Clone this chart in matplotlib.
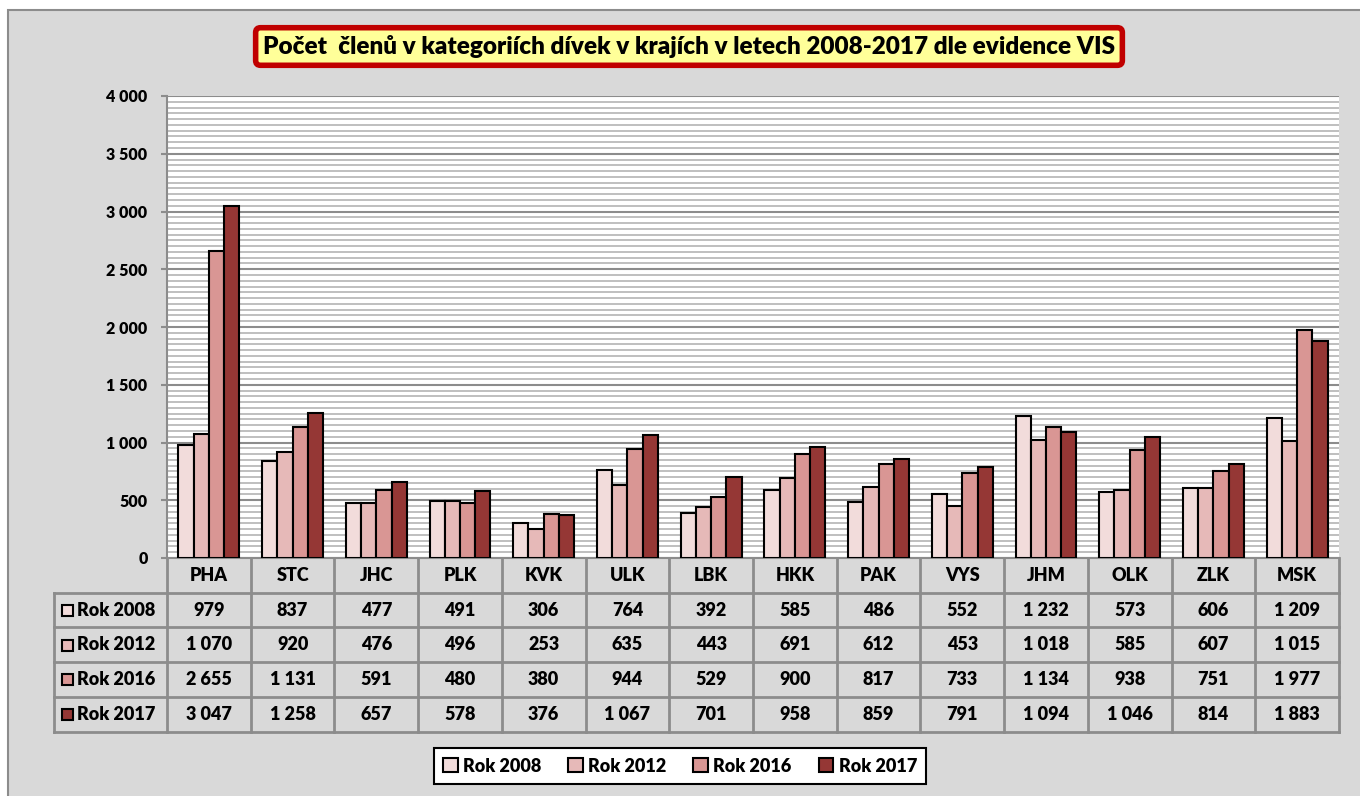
import numpy as np
import matplotlib
matplotlib.use("Agg")
import matplotlib.pyplot as plt
from matplotlib.patches import Rectangle, Patch
from matplotlib.transforms import blended_transform_factory
from matplotlib.ticker import MultipleLocator

# data
regions = ['PHA', 'STC', 'JHC', 'PLK', 'KVK', 'ULK', 'LBK', 'HKK', 'PAK', 'VYS', 'JHM', 'OLK', 'ZLK', 'MSK']
series_names = ['Rok 2008', 'Rok 2012', 'Rok 2016', 'Rok 2017']
rok_2008 = [979, 837, 477, 491, 306, 764, 392, 585, 486, 552, 1232, 573, 606, 1209]
rok_2012 = [1070, 920, 476, 496, 253, 635, 443, 691, 612, 453, 1018, 585, 607, 1015]
rok_2016 = [2655, 1131, 591, 480, 380, 944, 529, 900, 817, 733, 1134, 938, 751, 1977]
rok_2017 = [3047, 1258, 657, 578, 376, 1067, 701, 958, 859, 791, 1094, 1046, 814, 1883]
series = [rok_2008, rok_2012, rok_2016, rok_2017]
y_ticks = [0, 500, 1000, 1500, 2000, 2500, 3000, 3500, 4000]
colors = ['#f2dcdb', '#e6b9b8', '#d99694', '#953735']

title = 'Počet  členů v kategoriích dívek v krajích v letech 2008-2017 dle evidence VIS'

WT = 'heavy'
plt.rcParams['font.family'] = ['Lato', 'DejaVu Sans']
plt.rcParams['font.weight'] = WT

W, H = 1360, 796
fig = plt.figure(figsize=(W / 100, H / 100), dpi=100, facecolor='white')

def fx(px):
    return px / W

def fy(py):
    return 1 - py / H

def fmt(v):
    return f"{int(v):,}".replace(",", " ")

# grey chart area (behind the axes)
fig.patches.append(Rectangle((fx(8), fy(820)), fx(1400 - 8), (820 - 10) / H,
                             transform=fig.transFigure, facecolor='#d9d9d9',
                             edgecolor='#8c8c8c', linewidth=1.5, zorder=-5))

# plot area
ax = fig.add_axes([fx(167), fy(558), fx(1339 - 167), (558 - 96) / H])
ax.set_facecolor('white')

n = len(regions)
x = np.arange(n)
w = 1 / 5.5
for i, (vals, c, name) in enumerate(zip(series, colors, series_names)):
    ax.bar(x + (i - 1.5) * w, vals, width=w, color=c, edgecolor='black',
           linewidth=1.5, label=name, zorder=3)

ax.set_xlim(-0.5, n - 0.5)
ax.set_ylim(0, 4000)
ax.set_yticks(y_ticks, [fmt(v) for v in y_ticks], fontsize=11.5, fontweight=WT)
ax.yaxis.set_minor_locator(MultipleLocator(50))
ax.grid(which='minor', axis='y', color='#b4b4b4', linewidth=1.2, zorder=0)
ax.grid(which='major', axis='y', color='#8c8c8c', linewidth=1.5, zorder=1)
ax.set_axisbelow(True)
ax.set_xticks([])
ax.tick_params(axis='y', which='major', length=4, width=1.5, color='#8c8c8c', pad=10)
ax.tick_params(axis='y', which='minor', length=0)
for s in ['top', 'right']:
    ax.spines[s].set_visible(False)
for s in ['left', 'bottom']:
    ax.spines[s].set_color('#8c8c8c')
    ax.spines[s].set_linewidth(1.5)

# data table under the axis
tr = blended_transform_factory(ax.transData, ax.transAxes)
rh = 34.7 / (558 - 96)
left = -0.5 - (167 - 54) / ((1339 - 167) / n)
gcol = '#8c8c8c'
for k in range(n + 1):
    ax.plot([k - 0.5, k - 0.5], [0, -5 * rh], color=gcol, lw=2, transform=tr, clip_on=False)
ax.plot([left, left], [-rh, -5 * rh], color=gcol, lw=2, transform=tr, clip_on=False)
for r in range(1, 6):
    ax.plot([left, n - 0.5], [-r * rh, -r * rh], color=gcol, lw=2, transform=tr, clip_on=False)

for j, reg in enumerate(regions):
    ax.text(j, -0.5 * rh, reg, ha='center', va='center', fontsize=13,
            fontweight=WT, transform=tr)
for i, vals in enumerate(series):
    yc = -(i + 1.5) * rh
    for j, v in enumerate(vals):
        ax.text(j, yc, fmt(v), ha='center', va='center',
                fontsize=13, fontweight=WT, transform=tr)
    # legend key in the row header
    yp = 558 + (i + 1.5) * 34.7
    fig.patches.append(Rectangle((fx(62), fy(yp + 6)), fx(11), 11 / H,
                                 transform=fig.transFigure, facecolor=colors[i],
                                 edgecolor='black', linewidth=1.5, zorder=5))
    fig.text(fx(77), fy(yp), series_names[i], ha='left', va='center',
             fontsize=13, fontweight=WT)

# title box
fig.text(fx(689), fy(46.5), title, ha='center', va='center', fontsize=17.5,
         fontweight=WT,
         bbox=dict(boxstyle='round,pad=0.3,rounding_size=0.2', facecolor='#ffff99',
                   edgecolor='#c00000', linewidth=4))

# legend
handles = [Patch(facecolor=c, edgecolor='black', linewidth=1.5, label=nm)
           for c, nm in zip(colors, series_names)]
leg = fig.legend(handles=handles, loc='center', bbox_to_anchor=(fx(680), fy(766)),
                 ncol=4, frameon=True, fancybox=False, framealpha=1,
                 prop={'size': 13, 'weight': WT},
                 handlelength=0.8, handleheight=0.8, handletextpad=0.3,
                 columnspacing=1.5, borderpad=0.5)
leg.get_frame().set_edgecolor('black')
leg.get_frame().set_facecolor('white')
leg.get_frame().set_linewidth(1.5)

fig.savefig('out.png', dpi=100, facecolor='white')
